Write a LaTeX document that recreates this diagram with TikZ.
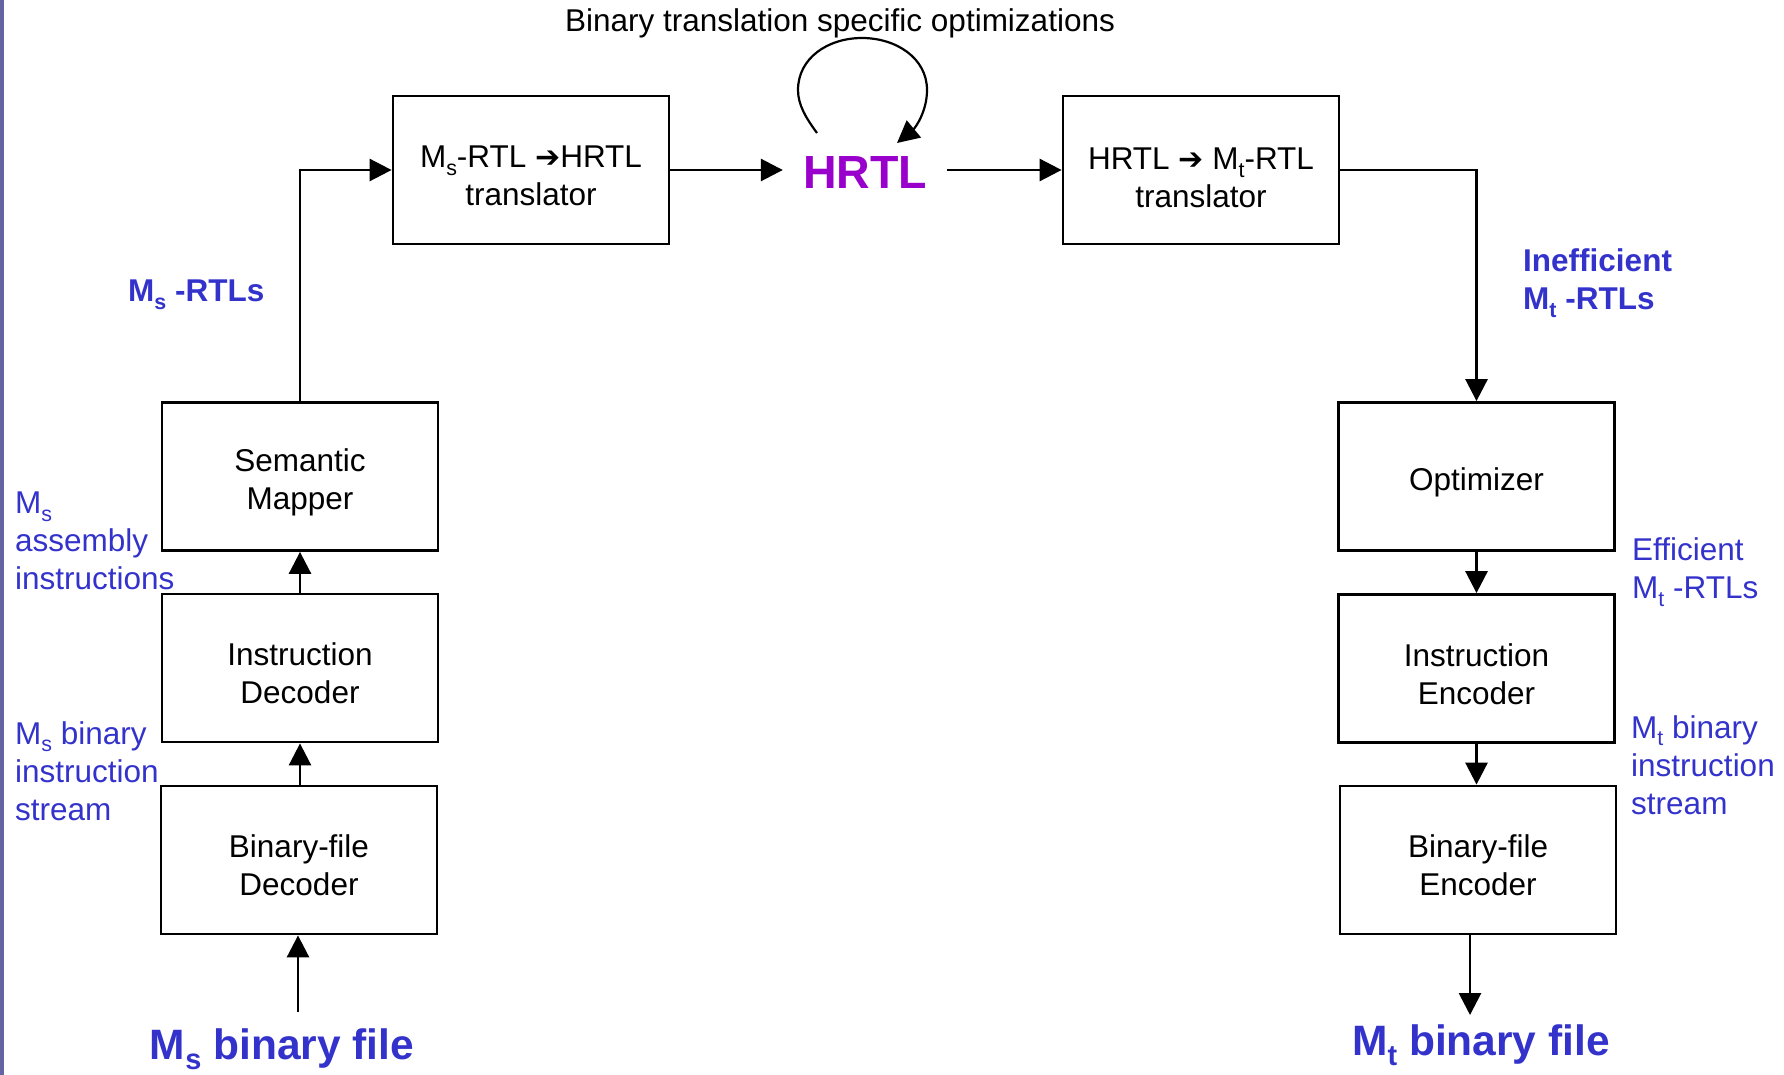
\documentclass[tikz,border=0pt]{standalone}
\usepackage{fontspec}
\usepackage{graphicx}
\setmainfont{Liberation Sans}
\newfontfamily\symfont{DejaVu Sans}
\usetikzlibrary{arrows.meta}
\definecolor{lblue}{RGB}{51,51,204}
\definecolor{hpurple}{RGB}{153,0,204}
\definecolor{barcol}{RGB}{100,100,165}
\newcommand\lsub[1]{\raisebox{-0.24em}{\scalebox{0.68}{#1}}}
\newcommand\bxs{\rule{0pt}{34pt}}
\newcommand\harr{{\symfont\fontsize{30}{30}\selectfont ➔}}
\begin{document}
\begin{tikzpicture}[x=1pt,y=-1pt,
  box/.style={draw=black, line width=2.8pt, minimum width=276pt, minimum height=148pt, align=center, font=\fontsize{31.5}{38}\selectfont, inner sep=0pt},
  arr/.style={line width=2.8pt, -{Triangle[width=22pt,length=22pt]}},
  lbl/.style={text=lblue, align=left, anchor=west, font=\fontsize{31.5}{38}\selectfont, inner sep=0pt},
  blbl/.style={text=lblue, align=left, anchor=west, font=\fontsize{31.5}{38}\selectfont\bfseries, inner sep=0pt},
  bigl/.style={text=lblue, font=\fontsize{42.5}{46}\selectfont\bfseries, inner sep=0pt},
]
\useasboundingbox (0,0) rectangle (1784,1075);
\fill[barcol] (0,0) rectangle (4,1075);

% boxes
\node[box] (ms2h) at (531,170) {\bxs M\lsub{s}-RTL \harr HRTL\\translator};
\node[box] (h2mt) at (1201,170) {\rule{0pt}{38pt}HRTL \harr{} M\lsub{t}-RTL\\translator};
\node[text=hpurple, font=\fontsize{46.5}{50}\selectfont\bfseries, inner sep=20pt] (hrtl) at (865,173) {HRTL};
\node[font=\fontsize{31.5}{38}\selectfont, inner sep=0pt] (title) at (840,23) {Binary translation specific optimizations};

\node[box] (sm) at (300,476.5) {\bxs Semantic\\Mapper};
\node[box] (idec) at (300,668) {\bxs Instruction\\Decoder};
\node[box] (bdec) at (299,860) {\bxs Binary-file\\Decoder};

\node[box] (opt) at (1476.5,476.5) {\bxs Optimizer};
\node[box] (ienc) at (1476.5,668.5) {\bxs Instruction\\Encoder};
\node[box] (benc) at (1478,860) {\bxs Binary-file\\Encoder};

% labels
\node[blbl] (msrtls) at (128,295) {M\lsub{s} -RTLs};
\node[lbl] (asm) at (15,541) {M\lsub{s}\\assembly\\instructions};
\node[lbl] (msbin) at (15,771) {M\lsub{s} binary\\instruction\\stream};
\node[bigl] (msfile) at (282,1049) {M\lsub{s} binary file};

\node[blbl] (ineff) at (1523,283) {Inefficient\\M\lsub{t} -RTLs};
\node[lbl] (eff) at (1632,572) {Efficient\\M\lsub{t} -RTLs};
\node[lbl] (mtbin) at (1631,765) {M\lsub{t} binary\\instruction\\stream};
\node[bigl] (mtfile) at (1481,1045) {M\lsub{t} binary file};

% connectors
\coordinate (msin) at (298,1012);
\coordinate (mtout) at (1470,1015);
\draw[arr] (msin) -- (msin |- bdec.south);
\draw[arr] (bdec.north -| idec.south) -- (idec.south);
\draw[arr] (idec.north) -- (sm.south);
\draw[arr] (sm.north) |- (ms2h.west);
\draw[arr] (ms2h.east) -- (ms2h.east -| hrtl.west);
\draw[arr] (hrtl.east |- h2mt.west) -- (h2mt.west);
\draw[arr] (h2mt.east) -| (opt.north);
\draw[arr] (opt.south) -- (ienc.north);
\draw[arr] (ienc.south) -- (ienc.south |- benc.north);
\draw[arr] (mtout |- benc.south) -- (mtout);

% self loop
\coordinate (loopa) at (817,133);
\coordinate (loopb) at (897,143);
\draw[arr, line width=2.2pt] (loopa) .. controls (806,118) and (798,105) .. (798,90)
  .. controls (798,58) and (828,38) .. (862,38)
  .. controls (896,38) and (927,58) .. (927,90)
  .. controls (927,112) and (915,128) .. (loopb);
\end{tikzpicture}
\end{document}
